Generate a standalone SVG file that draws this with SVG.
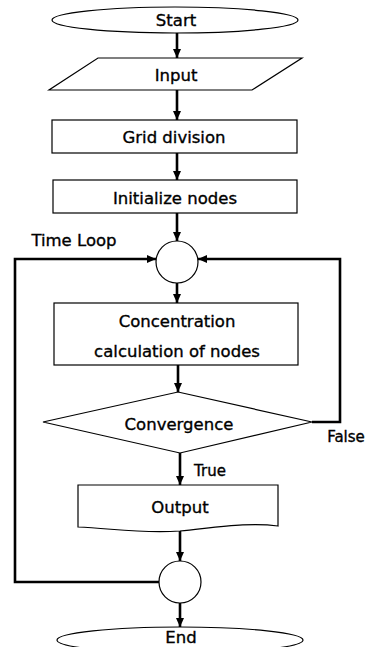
<svg xmlns="http://www.w3.org/2000/svg" width="373" height="647" viewBox="0 0 373 647">
<style>
.n{fill:#fff;stroke:#000;stroke-width:1.2}
.t{font-family:"DejaVu Sans",sans-serif;font-size:16.5px;fill:#000;stroke:#000;stroke-width:0.35;text-anchor:middle;dominant-baseline:central}
.c{fill:none;stroke:#000;stroke-width:2.6}
</style>
<defs>
<marker id="a" markerUnits="userSpaceOnUse" markerWidth="9" markerHeight="8" refX="9" refY="4" orient="auto">
<path d="M0,0 L9,4 L0,8 z" fill="#000"/>
</marker>
</defs>
<rect width="373" height="647" fill="#fff"/>
<g id="connectors">
<line class="c" x1="177" y1="33" x2="177" y2="58" marker-end="url(#a)"/>
<line class="c" x1="177" y1="90" x2="177" y2="120" marker-end="url(#a)"/>
<line class="c" x1="177" y1="153" x2="177" y2="180" marker-end="url(#a)"/>
<line class="c" x1="177" y1="213" x2="177" y2="241" marker-end="url(#a)"/>
<line class="c" x1="177" y1="283" x2="177" y2="303" marker-end="url(#a)"/>
<line class="c" x1="178" y1="365" x2="178" y2="392" marker-end="url(#a)"/>
<line class="c" x1="180" y1="453" x2="180" y2="485" marker-end="url(#a)"/>
<line class="c" x1="180" y1="530" x2="180" y2="561" marker-end="url(#a)"/>
<line class="c" x1="180" y1="603" x2="180" y2="627" marker-end="url(#a)"/>
<polyline class="c" points="312,422 340,422 340,259 198,259" marker-end="url(#a)"/>
<polyline class="c" points="159,582 15,582 15,259 156,259" marker-end="url(#a)"/>
<text class="t" x="74" y="240">Time Loop</text>
<text class="t" x="346" y="437" style="font-size:15px">False</text>
<text class="t" x="210" y="471" style="font-size:15px">True</text>
</g>
<g id="start">
<ellipse class="n" cx="175" cy="20" rx="123" ry="13"/>
<text class="t" x="176" y="20">Start</text>
</g>
<g id="input">
<polygon class="n" points="98,58 302,58 252,90 49,90"/>
<text class="t" x="176" y="75">Input</text>
</g>
<g id="grid">
<rect class="n" x="52" y="120" width="245" height="33"/>
<text class="t" x="174" y="137">Grid division</text>
</g>
<g id="init">
<rect class="n" x="53" y="180" width="244" height="33"/>
<text class="t" x="175" y="198">Initialize nodes</text>
</g>
<g id="loopStart">
<circle class="n" cx="177" cy="262" r="21"/>
</g>
<g id="conc">
<rect class="n" x="54" y="303" width="244" height="62"/>
<text class="t" x="177" y="321">Concentration</text>
<text class="t" x="177" y="351">calculation of nodes</text>
</g>
<g id="conv">
<polygon class="n" points="178,392 312,422 180,453 43,422"/>
<text class="t" x="179" y="424">Convergence</text>
</g>
<g id="output">
<path class="n" d="M78,485 H278 V526 C250,522 220,527 180,531 C140,534 110,528 78,527 Z"/>
<text class="t" x="180" y="507">Output</text>
</g>
<g id="loopEnd">
<circle class="n" cx="180" cy="582" r="21"/>
</g>
<g id="end">
<ellipse class="n" cx="180" cy="640" rx="123" ry="13"/>
<text class="t" x="181" y="637">End</text>
</g>
</svg>
